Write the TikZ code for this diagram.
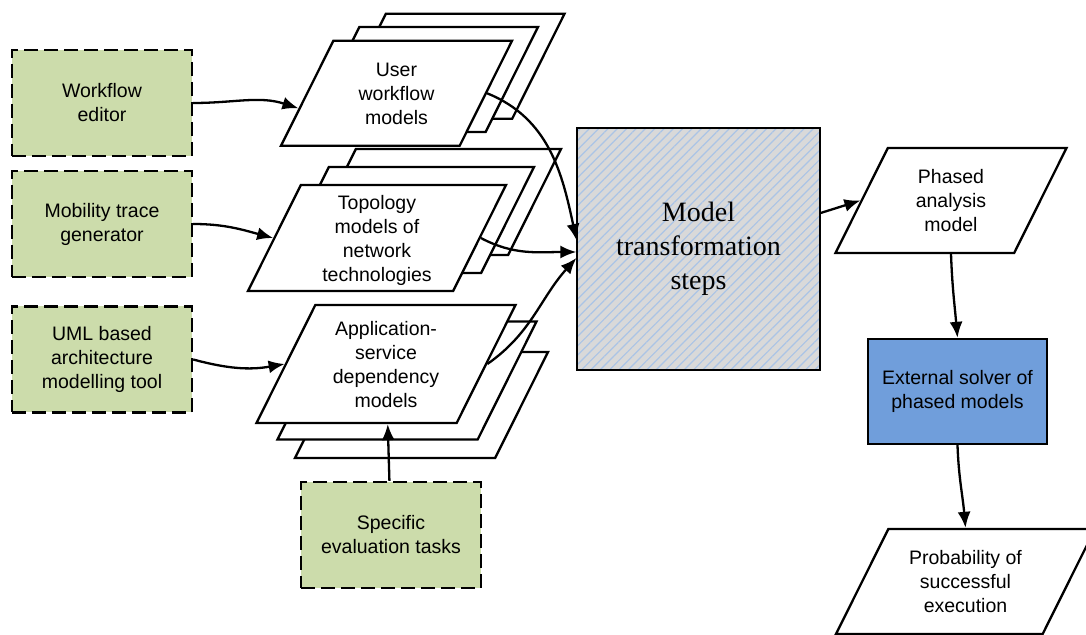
\documentclass[tikz,border=0pt]{standalone}
\usepackage{fontspec}
\setmainfont{Liberation Sans}
\newfontfamily\timesfont{Liberation Serif}
\usepackage{xcolor}
\usepackage{tikz}
\usetikzlibrary{positioning,shapes.geometric,arrows.meta,patterns.meta,calc}

\definecolor{toolgreen}{RGB}{204,220,171}
\definecolor{solverblue}{RGB}{112,158,219}
\definecolor{stepgrey}{RGB}{217,217,217}
\definecolor{hatchblue}{RGB}{170,196,230}

% strut of the full height, so the slant of the sides comes out right
\newcommand{\modellines}[2]{\rule[\dimexpr 7.4pt-#1/2\relax]{0pt}{#1}\begin{tabular}{@{}c@{}}#2\end{tabular}}

\begin{document}
\begin{tikzpicture}[x=1pt, y=1pt,
  toolnode/.style={rectangle, draw=black, fill=toolgreen, line width=2.4pt, dash pattern=on 14pt off 6pt, minimum width=180pt, minimum height=106pt, align=center, font=\fontsize{19.5}{24}\selectfont},
  modelnode/.style={trapezium, trapezium left angle=63.5, trapezium right angle=116.5, trapezium stretches body, draw=black, fill=white, line width=2.3pt, minimum height=105pt, inner sep=2pt, font=\fontsize{19.5}{24}\selectfont},
  flow/.style={line width=2.3pt, -{Latex[length=16pt,width=13pt]}}]

\clip (0,0) rectangle (1086,634);
\useasboundingbox (0,0) rectangle (1086,634);

\node[toolnode] (we) at (102,531) {Workflow\\editor};
\node[toolnode] (mtg) at (102,410) {Mobility trace\\generator};
\node[toolnode] (uml) at (102,274.5) {UML based\\architecture\\modelling tool};
\node[toolnode] (set) at (391,99) {Specific\\evaluation tasks};

% model stacks, back layers first
\node[modelnode, minimum width=253pt, minimum height=106pt] (asd3) at (421.5,229) {\rule{0pt}{102pt}};
\node[modelnode, minimum width=259pt, minimum height=118pt] (asd2) at (407,253.5) {\rule{0pt}{114pt}};
\node[modelnode, minimum width=259pt, minimum height=118pt] (asd) at (386,270) {\modellines{114pt}{Application-\\service\\dependency\\models}};

\node[modelnode, minimum width=258pt, minimum height=106pt] (tmn3) at (432,432) {\rule{0pt}{102pt}};
\node[modelnode, minimum width=258pt, minimum height=106pt] (tmn2) at (405,414) {\rule{0pt}{102pt}};
\node[modelnode, minimum width=258pt, minimum height=106pt] (tmn) at (377,396) {\modellines{102pt}{Topology\\models of\\network\\technologies}};

\node[modelnode, minimum width=231pt] (uwm3) at (449,567.7) {\rule{0pt}{101pt}};
\node[modelnode, minimum width=231pt] (uwm2) at (422.5,554.5) {\rule{0pt}{101pt}};
\node[modelnode, minimum width=231pt] (uwm) at (396.5,540.7) {\modellines{101pt}{User\\workflow\\models}};

\node[rectangle, draw=black, line width=2.3pt, preaction={fill=stepgrey}, pattern={Lines[angle=45,distance=6.6pt,line width=1.2pt]}, pattern color=hatchblue, minimum width=243pt, minimum height=242pt, align=center, font=\timesfont\fontsize{28}{34}\selectfont] (mts) at (698.5,385) {Model\\transformation\\steps};

\node[modelnode, minimum width=231pt] (pam) at (951,433.5) {\modellines{101pt}{Phased\\analysis\\model}};
\node[rectangle, draw=black, fill=solverblue, line width=2.3pt, minimum width=179pt, minimum height=105pt, align=center, font=\fontsize{19.5}{24}\selectfont] (esp) at (957.5,242.5) {External solver of\\phased models};
\node[modelnode, minimum width=259pt] (pse) at (965.5,52.5) {\modellines{101pt}{Probability of\\successful\\execution}};

\draw[flow] (we.east) to[out=0,in=162] ($(uwm.bottom left corner)!0.36!(uwm.top left corner)$);
\draw[flow] (mtg.east) to[out=0,in=165] (tmn.left side);
\draw[flow] (uml.east) to[out=-15,in=190] (asd.left side);
\draw[flow] (set) -- (asd);
\draw[flow] (uwm.right side) to[out=-22,in=102] ([yshift=9pt]mts.west);
\draw[flow] (tmn.right side) to[out=-28,in=180] ([yshift=-3pt]mts.west);
\draw[flow] (asd.right side) to[out=35,in=228] ([yshift=-9pt]mts.west);
\draw[flow] ([yshift=36pt]mts.east) -- (pam.left side);
\draw[flow] (pam.south) to[out=-88,in=95] (esp.north);
\draw[flow] (esp.south) to[out=-88,in=95] (pse.north);

\end{tikzpicture}
\end{document}
